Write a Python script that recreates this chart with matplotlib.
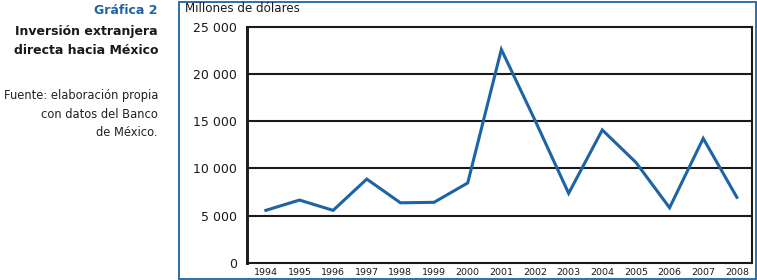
import matplotlib.pyplot as plt
from matplotlib.patches import Rectangle

years = [1994, 1995, 1996, 1997, 1998, 1999, 2000, 2001, 2002, 2003, 2004, 2005, 2006, 2007, 2008]
ied = [5570, 6660, 5570, 8880, 6370, 6420, 8470, 22590, 15100, 7370, 14080, 10640, 5850, 13180, 6950]
yticks = [0, 5000, 10000, 15000, 20000, 25000]
ytick_labels = ['0', '5 000', '10 000', '15 000', '20 000', '25 000']

blue = '#1c64a6'
W, H = 757, 280
plt.rcParams['font.family'] = 'DejaVu Sans'

fig = plt.figure(figsize=(W / 100, H / 100), dpi=100)
ax = fig.add_axes([247 / W, 17 / H, 505 / W, 236.3 / H])

ax.plot(years, ied, color=blue, linewidth=2.2, solid_joinstyle='miter', zorder=3)

ax.set_ylim(0, 25000)
ax.set_xlim(1993.44, 2008.45)
ax.set_yticks(yticks)
ax.set_yticklabels(ytick_labels, fontsize=9, color='#1a1a1a')
ax.set_xticks(years)
ax.set_xticklabels([str(y) for y in years], fontsize=6.8, color='#1a1a1a')
ax.tick_params(axis='y', length=0, pad=7)
ax.tick_params(axis='x', length=0, pad=3.5)

for v in yticks[1:-1]:
    ax.axhline(v, color='#1a1a1a', linewidth=1.5, zorder=1)
for side in ['top', 'right', 'bottom']:
    ax.spines[side].set_linewidth(1.5)
    ax.spines[side].set_color('#1a1a1a')
ax.spines['left'].set_linewidth(2.1)
ax.spines['left'].set_color('#1a1a1a')

# blue frame around the chart
fig.add_artist(Rectangle((178.5 / W, 1.5 / H), 577 / W, 277 / H, transform=fig.transFigure,
                         fill=False, edgecolor=blue, linewidth=1.3))

fig.text(185 / W, 1 - 8 / H, 'Millones de dólares', fontsize=8.6,
         va='center', ha='left', color='#1a1a1a')

fig.text(158 / W, 1 - 10 / H, 'Gráfica 2', fontsize=9, fontweight='bold',
         color=blue, ha='right', va='center')
fig.text(158 / W, 1 - 31 / H, 'Inversión extranjera', fontsize=9, fontweight='bold',
         color='#1a1a1a', ha='right', va='center')
fig.text(158 / W, 1 - 50 / H, 'directa hacia México', fontsize=9, fontweight='bold',
         color='#1a1a1a', ha='right', va='center')
fig.text(158 / W, 1 - 96 / H, 'Fuente: elaboración propia', fontsize=8.3,
         color='#222222', ha='right', va='center')
fig.text(158 / W, 1 - 114 / H, 'con datos del Banco', fontsize=8.3,
         color='#222222', ha='right', va='center')
fig.text(158 / W, 1 - 132 / H, 'de México.', fontsize=8.3,
         color='#222222', ha='right', va='center')

plt.savefig('out.png', dpi=100)
